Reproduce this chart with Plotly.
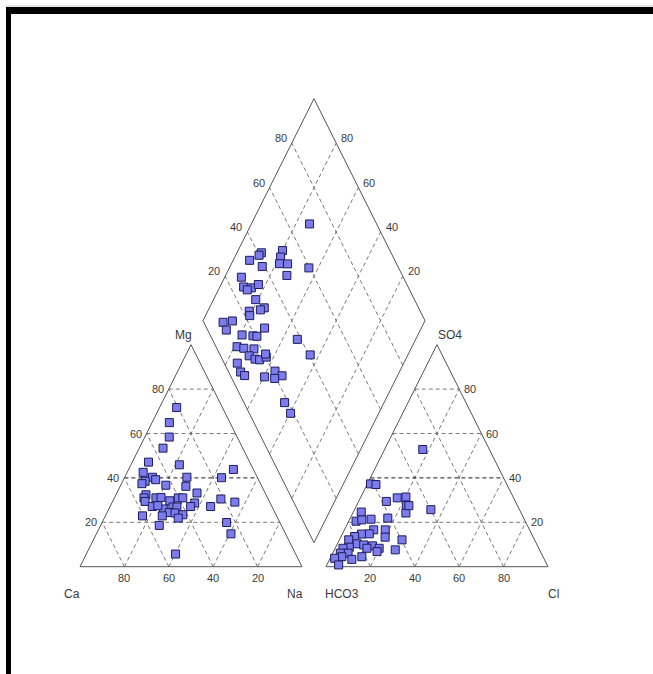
import plotly.graph_objects as go

# ---------------- data (percent values) ----------------
# cation triangle: Mg %, Na % (Ca = 100 - Mg - Na)
cat_mg = [71.7, 64.9, 58.4, 53.4, 47.1, 45.9, 43.8, 42.5, 40.3, 39.2, 38.5, 40.3, 40.1, 37.4, 36.7,
          36.2, 33.2, 32.4, 31.0, 29.4, 31.0, 31.2, 29.7, 31.0, 31.0, 30.5, 29.1, 28.7, 27.1, 27.1,
          27.1, 26.0, 26.9, 26.9, 27.5, 24.4, 24.2, 23.4, 22.9, 22.9, 21.9, 19.9, 18.6, 14.8, 5.7]
cat_na = [7.7, 7.8, 11.0, 10.7, 7.3, 21.8, 47.2, 7.2, 12.5, 14.5, 10.1, 28.0, 43.7, 9.2, 20.3,
          29.6, 36.1, 13.5, 13.3, 14.6, 18.7, 20.9, 25.6, 28.8, 30.8, 48.2, 55.2, 37.3, 36.3, 45.3,
          19.0, 24.5, 28.4, 30.2, 21.3, 28.0, 30.7, 34.6, 16.7, 25.6, 33.3, 56.1, 26.4, 60.6, 40.2]

# anion triangle: SO4 %, Cl % (HCO3 = 100 - SO4 - Cl)
an_so4 = [52.8, 37.3, 37.0, 29.4, 31.0, 31.4, 27.6, 25.7, 24.2, 24.6, 20.5, 21.1, 21.4, 21.9, 16.6,
          16.6, 14.8, 14.7, 13.3, 12.1, 13.6, 12.1, 10.3, 9.8, 9.4, 8.3, 8.3, 8.8, 8.3, 6.1,
          6.1, 7.6, 6.8, 4.5, 3.3, 4.5, 3.8, 0.8, 27.5]
an_cl = [17.2, 1.4, 4.0, 12.5, 16.6, 20.3, 22.4, 34.4, 23.9, 3.6, 3.3, 5.6, 9.6, 16.9, 18.4,
         13.2, 12.1, 8.6, 20.0, 28.2, 6.1, 4.2, 8.9, 12.1, 16.3, 19.8, 14.3, 6.1, 3.5, 6.9,
         3.4, 27.4, 19.6, 13.9, 10.0, 4.9, 2.0, 5.3, 23.6]

# diamond: SO4+Cl %, Ca+Mg %
dia_so4cl = [69.8, 59.6, 41.6, 40.0, 34.6, 38.9, 51.6, 49.3, 47.3, 50.9, 48.0, 27.1, 25.9, 29.2, 26.9,
             33.1, 28.5, 30.5, 28.3, 23.0, 22.2, 8.7, 13.2, 8.4, 26.1, 14.4, 19.1, 20.8, 38.3, 9.5,
             12.2, 16.6, 12.9, 14.8, 16.7, 20.3, 40.6, 5.9, 5.4, 6.4, 15.1, 21.1, 23.2, 19.3, 18.3,
             18.6, 20.7]
dia_camg = [73.8, 64.2, 89.0, 89.5, 92.6, 85.5, 80.0, 79.4, 78.4, 74.7, 72.4, 92.5, 89.3, 85.6, 87.0,
            83.2, 81.0, 75.3, 76.6, 81.3, 80.1, 90.6, 86.7, 87.4, 70.6, 79.2, 74.1, 72.2, 53.3, 78.8,
            75.4, 70.7, 71.3, 67.9, 65.7, 63.3, 44.0, 75.0, 71.5, 68.9, 59.6, 56.2, 52.0, 54.7, 44.8,
            39.7, 64.3]

tick_vals = [20, 40, 60, 80]
cat_labels = ["Mg", "Ca", "Na"]
an_labels = ["SO4", "HCO3", "Cl"]

# ---------------- geometry ----------------
GAP = 10.8
OFF = 100 + GAP


def cat_xy(mg, na):
    return na + mg / 2.0, mg


def an_xy(so4, cl):
    return OFF + cl + so4 / 2.0, so4


def dia_xy(a, b):
    t = GAP + a + b
    return 100 - b + t / 2.0, t


def seg_trace(segs, color, dash, width=1):
    xs, ys = [], []
    for (x0, y0), (x1, y1) in segs:
        xs += [x0, x1, None]
        ys += [y0, y1, None]
    return go.Scatter(x=xs, y=ys, mode="lines", hoverinfo="skip",
                      line=dict(color=color, width=width, dash=dash))


GRID = "#7a7a7a"
DARK = "#1a1a1a"
EDGE = "#555555"

fig = go.Figure()

# grid lines
grid, dark = [], []
for v in tick_vals:
    seg = (cat_xy(v, 0), cat_xy(v, 100 - v))
    (dark if v == 40 else grid).append(seg)
    grid.append((cat_xy(0, v), cat_xy(100 - v, v)))          # Na = v
    grid.append((cat_xy(0, 100 - v), cat_xy(100 - v, 0)))    # Ca = v
    seg = (an_xy(v, 0), an_xy(v, 100 - v))
    (dark if v == 40 else grid).append(seg)
    grid.append((an_xy(0, v), an_xy(100 - v, v)))            # Cl = v
    grid.append((an_xy(0, 100 - v), an_xy(100 - v, 0)))      # HCO3 = v
    grid.append((dia_xy(v, 0), dia_xy(v, 100)))
    grid.append((dia_xy(0, v), dia_xy(100, v)))
fig.add_trace(seg_trace(grid, GRID, "4px,3px"))
fig.add_trace(seg_trace(dark, DARK, "4px,3px"))

# outlines
outl = []
c = [cat_xy(0, 0), cat_xy(0, 100), cat_xy(100, 0)]
a_ = [an_xy(0, 0), an_xy(0, 100), an_xy(100, 0)]
d = [dia_xy(0, 0), dia_xy(0, 100), dia_xy(100, 100), dia_xy(100, 0)]
for poly in (c, a_, d):
    for i in range(len(poly)):
        outl.append((poly[i], poly[(i + 1) % len(poly)]))
fig.add_trace(seg_trace(outl, EDGE, "solid"))

# points
mk = dict(symbol="square", size=8, color="#7c7cec", line=dict(color="#1c1c5c", width=1))
cx, cy = zip(*[cat_xy(m, n) for m, n in zip(cat_mg, cat_na)])
ax_, ay_ = zip(*[an_xy(s, c_) for s, c_ in zip(an_so4, an_cl)])
dx, dy = zip(*[dia_xy(a, b) for a, b in zip(dia_so4cl, dia_camg)])
for xs, ys in ((cx, cy), (ax_, ay_), (dx, dy)):
    fig.add_trace(go.Scatter(x=xs, y=ys, mode="markers", marker=mk, hoverinfo="skip"))

# tick labels
FONT = dict(family="Liberation Sans, Arial, sans-serif", size=11, color="#3a3a3a")
ann = []


def lab(x, y, text, xanchor="center", xshift=0, yshift=0, size=11):
    ann.append(dict(x=x, y=y, text=text, showarrow=False, xanchor=xanchor, yanchor="middle",
                    xshift=xshift, yshift=yshift, font=dict(FONT, size=size)))


for v in tick_vals:
    x, y = cat_xy(v, 0)
    lab(x, y, str(v), "right", -3, 0)
    x, y = cat_xy(0, 100 - v)
    lab(x, y, str(v), "center", 0, -11)
    x, y = an_xy(0, v)
    lab(x, y, str(v), "center", 0, -11)
    x, y = an_xy(v, 100 - v)
    lab(x, y, str(v), "left", 3, 0)
    x, y = dia_xy(v, 100)
    lab(x, y, str(v), "right", -3, 5)
    x, y = dia_xy(100, v)
    lab(x, y, str(v), "left", 3, 5)

# component labels
x, y = cat_xy(100, 0); lab(x, y, cat_labels[0], "center", -8, 10, 12)
x, y = cat_xy(0, 0); lab(x, y, cat_labels[1], "center", -8, -27, 12)
x, y = cat_xy(0, 100); lab(x, y, cat_labels[2], "center", -7, -27, 12)
x, y = an_xy(100, 0); lab(x, y, an_labels[0], "center", 13, 10, 12)
x, y = an_xy(0, 0); lab(x, y, an_labels[1], "center", 16, -27, 12)
x, y = an_xy(0, 100); lab(x, y, an_labels[2], "center", 6, -27, 12)

W, H = 653, 674
PX = 2.22
X0, Y0 = 80.0, 566.7

shapes = [
    dict(type="rect", xref="paper", yref="paper", x0=6 / W, x1=1, y0=1 - 14 / H, y1=1 - 7 / H,
         fillcolor="black", line=dict(width=0)),
    dict(type="rect", xref="paper", yref="paper", x0=6 / W, x1=11 / W, y0=0, y1=1 - 7 / H,
         fillcolor="black", line=dict(width=0)),
    dict(type="line", xref="paper", yref="paper", x0=6 / W, x1=1, y0=1 - 6 / H, y1=1 - 6 / H,
         line=dict(color="#cccccc", width=1)),
]

fig.update_layout(
    width=W, height=H, autosize=False,
    margin=dict(l=0, r=0, t=0, b=0, pad=0),
    paper_bgcolor="white", plot_bgcolor="white",
    showlegend=False,
    xaxis=dict(visible=False, range=[-X0 / PX, (W - X0) / PX], fixedrange=True),
    yaxis=dict(visible=False, range=[-(H - Y0) / PX, Y0 / PX], fixedrange=True),
    annotations=ann, shapes=shapes,
)

fig.write_html(
    "out.html",
    config={"displayModeBar": False},
    post_script="document.body.style.margin='0';document.documentElement.style.overflow='hidden';"
                "document.body.style.overflow='hidden';",
)
